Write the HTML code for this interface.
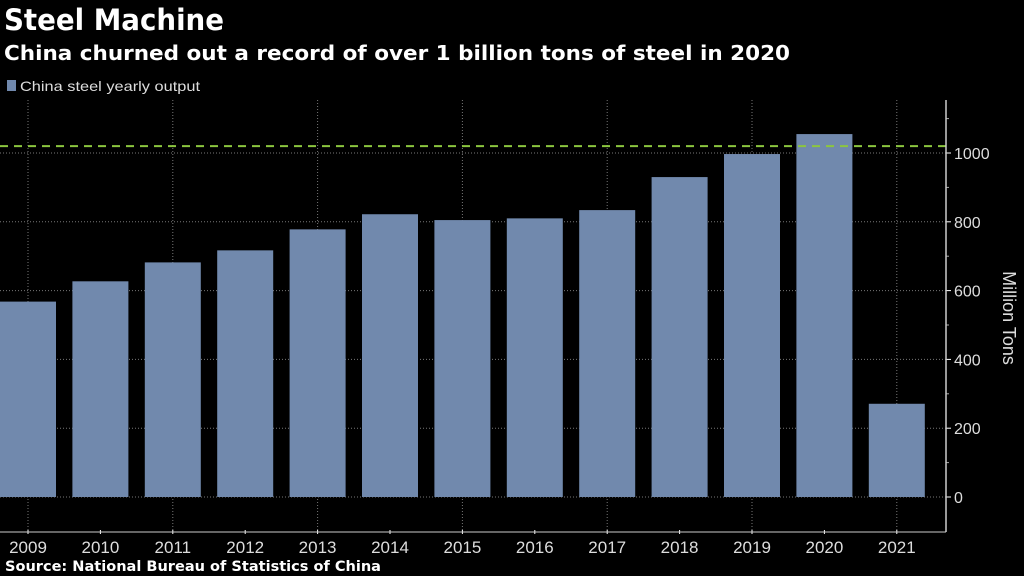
<!DOCTYPE html>
<html><head><meta charset="utf-8"><style>
body{margin:0;background:#000;width:1024px;height:576px;overflow:hidden;font-family:"Liberation Sans","DejaVu Sans",sans-serif;color:#fff}
svg{position:absolute;left:0;top:0}
</style></head><body>
<svg id="c" width="1024" height="576">
<text x="4" y="30" fill="#fff" font-size="29" font-weight="bold" font-family="DejaVu Sans, sans-serif" textLength="220" lengthAdjust="spacingAndGlyphs">Steel Machine</text>
<text x="4" y="60" fill="#fff" font-size="20" font-weight="bold" font-family="DejaVu Sans, sans-serif" textLength="786" lengthAdjust="spacingAndGlyphs">China churned out a record of over 1 billion tons of steel in 2020</text>
<rect x="7" y="80" width="9" height="11" fill="#7189ad"/>
<text x="20" y="91" fill="#ddd" font-size="14" textLength="180" lengthAdjust="spacingAndGlyphs">China steel yearly output</text>
<text x="5" y="571" fill="#fff" font-size="14" font-weight="bold" font-family="DejaVu Sans, sans-serif" textLength="376" lengthAdjust="spacingAndGlyphs">Source: National Bureau of Statistics of China</text>
</svg>
<script>
const years=["2009","2010","2011","2012","2013","2014","2015","2016","2017","2018","2019","2020","2021"];
const output=[568,627,682,717,778,822,805,810,834,930,997,1055,271];
const yTicks=[0,200,400,600,800,1000];
const refValue=1020;
const svg=document.getElementById('c');const NS='http://www.w3.org/2000/svg';
function y(v){return 497-v*0.344;}
function x(i){return 28+i*72.4;}
function mk(t,a,name){const e=document.createElementNS(NS,t);for(const k in a)e.setAttribute(k,a[k]);


svg.appendChild(e);return e;}
yTicks.forEach(v=>{mk('line',{x1:0,x2:946,y1:y(v),y2:y(v),stroke:'#777','stroke-dasharray':'1 2','stroke-width':1},'y-gridline');
const t=mk('text',{x:954,y:y(v)+6,fill:'#ddd','font-size':16},'y-tick-label');t.textContent=v;
mk('line',{x1:946,x2:951,y1:y(v),y2:y(v),stroke:'#fff'},'y-tick');});
[100,300,500,700,900,1100].forEach(v=>mk('line',{x1:946,x2:949,y1:y(v),y2:y(v),stroke:'#aaa'},'y-minor-tick'));
years.forEach((yr,i)=>{if(i%2==0)mk('line',{x1:x(i),x2:x(i),y1:100,y2:532,stroke:'#777','stroke-dasharray':'1 2'},'x-gridline');});
years.forEach((yr,i)=>{mk('rect',{x:x(i)-28,y:y(output[i]),width:56,height:y(0)-y(output[i]),fill:'#7189ad'},'bar-'+yr);
const t=mk('text',{x:x(i),y:553,fill:'#ddd','font-size':17,'text-anchor':'middle'},'x-tick-label');t.textContent=yr;
mk('line',{x1:x(i),x2:x(i),y1:530,y2:534,stroke:'#fff'},'x-tick');});
mk('line',{x1:0,x2:946,y1:y(refValue),y2:y(refValue),stroke:'#8cc63f','stroke-width':2,'stroke-dasharray':'8 6'},'reference-line');
mk('line',{x1:946,x2:946,y1:100,y2:532,stroke:'#ccc','stroke-width':1.5},'y-axis-line');
mk('line',{x1:0,x2:946,y1:532,y2:532,stroke:'#ccc','stroke-width':1},'x-axis-line');
const at=mk('text',{x:1003,y:318,fill:'#ddd','font-size':18,'text-anchor':'middle',transform:'rotate(90 1003 318)'},'y-axis-title');at.textContent='Million Tons';
</script>
</body></html>
